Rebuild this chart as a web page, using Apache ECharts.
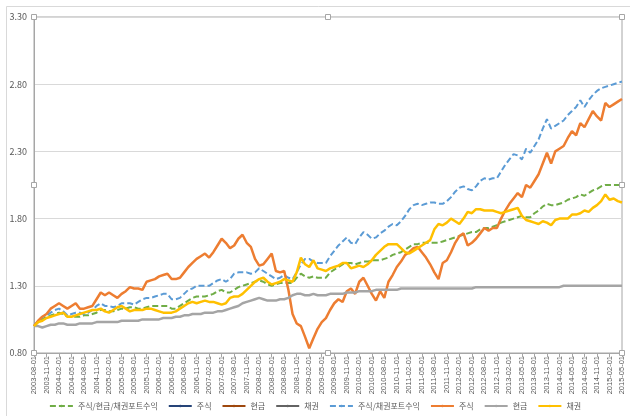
<!DOCTYPE html>
<html>
<head>
<meta charset="utf-8">
<script src="https://cdn.jsdelivr.net/npm/echarts@6/dist/echarts.min.js"></script>
<style>
  html, body { margin: 0; padding: 0; background: #fff; }
  #chart { width: 630px; height: 416px; }
</style>
</head>
<body>
<div id="chart"></div>
<script>
// 월별 날짜 (2003-08-01 ~ 2015-05-01)
var months = [];
for (var y = 2003, m = 8; y < 2015 || (y === 2015 && m <= 5); m++) {
  if (m > 12) { m = 1; y++; }
  months.push(y + '-' + (m < 10 ? '0' + m : m) + '-01');
}

var yTicks = [0.8, 1.3, 1.8, 2.3, 2.8, 3.3];

// 주식/현금/채권포트수익
var mixAll = [
  1.00,1.03,1.05,1.07,1.08,1.09,1.10,1.09,1.07,1.07,1.07,1.07,
  1.08,1.08,1.09,1.10,1.12,1.12,1.11,1.11,1.12,1.13,1.13,1.14,
  1.14,1.13,1.13,1.14,1.15,1.15,1.15,1.15,1.15,1.13,1.13,1.15,
  1.17,1.19,1.21,1.22,1.22,1.22,1.23,1.24,1.26,1.27,1.25,1.25,
  1.27,1.29,1.30,1.31,1.32,1.33,1.34,1.33,1.31,1.30,1.31,1.32,
  1.32,1.32,1.32,1.36,1.39,1.37,1.36,1.37,1.36,1.36,1.36,1.40,
  1.42,1.44,1.46,1.47,1.47,1.46,1.47,1.48,1.48,1.49,1.49,1.49,
  1.50,1.51,1.53,1.54,1.55,1.57,1.59,1.61,1.61,1.62,1.62,1.62,
  1.62,1.62,1.63,1.64,1.65,1.66,1.67,1.68,1.69,1.70,1.70,1.72,
  1.73,1.73,1.74,1.75,1.77,1.78,1.79,1.80,1.81,1.82,1.81,1.81,
  1.84,1.86,1.89,1.91,1.90,1.90,1.91,1.92,1.94,1.95,1.96,1.98,
  1.97,1.99,2.01,2.02,2.04,2.05,2.05,2.05,2.05,2.05
];
// 주식/채권포트수익
var mixStockBond = [
  1.00,1.04,1.07,1.08,1.10,1.12,1.13,1.11,1.08,1.09,1.10,1.10,
  1.09,1.10,1.12,1.15,1.17,1.15,1.15,1.14,1.15,1.17,1.17,1.17,
  1.16,1.18,1.20,1.21,1.21,1.22,1.23,1.24,1.24,1.20,1.20,1.21,
  1.24,1.27,1.28,1.30,1.30,1.30,1.30,1.32,1.34,1.35,1.33,1.35,
  1.39,1.40,1.40,1.40,1.39,1.40,1.43,1.41,1.39,1.37,1.35,1.36,
  1.38,1.36,1.35,1.40,1.46,1.50,1.50,1.48,1.47,1.47,1.47,1.52,
  1.56,1.60,1.63,1.66,1.62,1.61,1.66,1.70,1.68,1.65,1.66,1.69,
  1.71,1.74,1.76,1.75,1.78,1.82,1.87,1.90,1.91,1.90,1.91,1.92,
  1.92,1.91,1.91,1.93,1.96,2.00,2.03,2.04,2.02,2.01,2.04,2.08,
  2.10,2.09,2.10,2.10,2.15,2.20,2.24,2.28,2.27,2.24,2.32,2.29,
  2.34,2.39,2.47,2.54,2.47,2.49,2.51,2.53,2.57,2.60,2.63,2.68,
  2.63,2.68,2.72,2.75,2.77,2.78,2.79,2.80,2.81,2.82
];
// 주식
var stock = [
  1.00,1.04,1.07,1.09,1.13,1.15,1.17,1.15,1.13,1.15,1.17,1.13,
  1.13,1.14,1.15,1.20,1.25,1.23,1.25,1.23,1.21,1.24,1.26,1.29,
  1.28,1.28,1.27,1.33,1.34,1.35,1.37,1.38,1.39,1.35,1.35,1.36,
  1.40,1.44,1.47,1.50,1.52,1.54,1.51,1.55,1.60,1.65,1.62,1.58,
  1.60,1.65,1.68,1.62,1.59,1.50,1.45,1.46,1.50,1.54,1.41,1.40,
  1.41,1.27,1.09,1.02,1.00,0.92,0.835,0.91,0.98,1.03,1.06,1.12,
  1.17,1.20,1.18,1.26,1.28,1.24,1.33,1.36,1.30,1.24,1.19,1.26,
  1.21,1.33,1.38,1.44,1.48,1.53,1.55,1.58,1.59,1.55,1.51,1.46,
  1.40,1.35,1.47,1.49,1.55,1.62,1.67,1.69,1.60,1.62,1.65,1.69,
  1.73,1.71,1.73,1.73,1.80,1.86,1.91,1.95,1.99,1.96,2.05,2.03,
  2.08,2.13,2.21,2.29,2.21,2.30,2.32,2.34,2.40,2.45,2.42,2.51,
  2.48,2.54,2.60,2.56,2.53,2.66,2.63,2.65,2.67,2.69
];
// 현금
var cash = [
  1.00,1.00,0.99,1.00,1.01,1.01,1.02,1.02,1.01,1.01,1.01,1.02,
  1.02,1.02,1.02,1.03,1.03,1.03,1.03,1.03,1.03,1.04,1.04,1.04,
  1.04,1.04,1.05,1.05,1.05,1.05,1.05,1.06,1.06,1.06,1.07,1.07,
  1.08,1.08,1.09,1.09,1.09,1.10,1.10,1.10,1.11,1.11,1.12,1.13,
  1.14,1.15,1.17,1.18,1.19,1.20,1.21,1.20,1.19,1.19,1.19,1.20,
  1.20,1.21,1.23,1.24,1.24,1.23,1.23,1.24,1.23,1.23,1.23,1.24,
  1.24,1.24,1.24,1.25,1.25,1.25,1.26,1.26,1.26,1.26,1.27,1.27,
  1.27,1.27,1.27,1.27,1.28,1.28,1.28,1.28,1.28,1.28,1.28,1.28,
  1.28,1.28,1.28,1.28,1.28,1.28,1.28,1.28,1.28,1.28,1.29,1.29,
  1.29,1.29,1.29,1.29,1.29,1.29,1.29,1.29,1.29,1.29,1.29,1.29,
  1.29,1.29,1.29,1.29,1.29,1.29,1.29,1.30,1.30,1.30,1.30,1.30,
  1.30,1.30,1.30,1.30,1.30,1.30,1.30,1.30,1.30,1.30
];
// 채권
var bond = [
  1.00,1.03,1.04,1.06,1.07,1.08,1.09,1.10,1.07,1.07,1.08,1.09,
  1.10,1.11,1.12,1.12,1.13,1.11,1.10,1.12,1.14,1.15,1.13,1.11,
  1.12,1.12,1.12,1.13,1.13,1.12,1.11,1.10,1.10,1.10,1.11,1.13,
  1.15,1.17,1.18,1.17,1.18,1.19,1.18,1.18,1.17,1.16,1.17,1.21,
  1.22,1.22,1.24,1.27,1.30,1.33,1.35,1.36,1.33,1.31,1.32,1.33,
  1.35,1.34,1.33,1.40,1.51,1.46,1.44,1.49,1.43,1.42,1.41,1.43,
  1.44,1.45,1.47,1.47,1.43,1.44,1.45,1.44,1.46,1.49,1.53,1.56,
  1.59,1.61,1.61,1.61,1.58,1.55,1.54,1.56,1.58,1.60,1.62,1.64,
  1.72,1.76,1.75,1.77,1.80,1.78,1.76,1.80,1.85,1.84,1.87,1.87,
  1.86,1.86,1.86,1.85,1.84,1.85,1.86,1.87,1.88,1.82,1.79,1.78,
  1.77,1.76,1.78,1.77,1.75,1.79,1.80,1.80,1.80,1.83,1.83,1.84,
  1.86,1.85,1.88,1.90,1.93,1.98,1.94,1.95,1.93,1.92
];

var font = '"Noto Sans CJK KR", "Noto Sans", sans-serif';

function makeLine(name, data, color, dashed, width) {
  return {
    name: name,
    type: 'line',
    data: data,
    symbol: 'none',
    silent: true,
    itemStyle: { color: color },
    lineStyle: { color: color, width: width, type: dashed ? [6, 3] : 'solid' }
  };
}

var chart = echarts.init(document.getElementById('chart'));

// 플롯 영역 선택 핸들 (장식)
var handles = [];
[[34, 17], [328, 17], [622, 17], [34, 185], [622, 185], [34, 353], [328, 353], [622, 353]].forEach(function (p) {
  handles.push({
    type: 'rect', silent: true, z: 100,
    shape: { x: p[0] - 2.5, y: p[1] - 2.5, width: 5, height: 5 },
    style: { fill: '#fff', stroke: '#A6A6A6', lineWidth: 1 }
  });
});

var option = {
  animation: false,
  backgroundColor: '#fff',
  textStyle: { fontFamily: font },
  graphic: [{
    type: 'rect', silent: true,
    shape: { x: 6.5, y: 6.5, width: 640, height: 420 },
    style: { fill: 'none', stroke: '#D9D9D9', lineWidth: 1 }
  }].concat(handles),
  grid: {
    left: 34, right: 8, top: 17, bottom: 63,
    show: true, borderColor: '#A6A6A6', borderWidth: 1
  },
  legend: {
    bottom: 1,
    left: 'center',
    itemWidth: 23,
    itemHeight: 3,
    itemGap: 10,
    formatter: function (n) { return n.replace(/#\d$/, ''); },
    textStyle: { color: '#595959', fontSize: 8, fontFamily: font }
  },
  xAxis: {
    type: 'category',
    data: months,
    boundaryGap: false,
    axisLine: { lineStyle: { color: '#A6A6A6' } },
    axisTick: { interval: 2, length: 4, lineStyle: { color: '#A6A6A6' } },
    axisLabel: {
      interval: 2, rotate: 90, fontSize: 7.5, color: '#595959', margin: 3,
      fontFamily: '"Liberation Sans", sans-serif'
    },
    splitLine: { show: false }
  },
  yAxis: {
    type: 'value',
    min: yTicks[0],
    max: yTicks[yTicks.length - 1],
    interval: 0.5,
    axisLine: { show: true, lineStyle: { color: '#A6A6A6' } },
    axisTick: { show: false },
    axisLabel: {
      fontSize: 9, color: '#595959', margin: 7,
      formatter: function (v) { return v.toFixed(2); }
    },
    splitLine: { lineStyle: { color: '#D9D9D9' } }
  },
  series: [
    makeLine('주식/현금/채권포트수익', mixAll, '#70AD47', true, 2),
    makeLine('주식', [], '#264478', false, 2.5),
    makeLine('현금', [], '#9E480E', false, 2.5),
    makeLine('채권', [], '#636363', false, 2.5),
    makeLine('주식/채권포트수익', mixStockBond, '#5B9BD5', true, 2),
    makeLine('주식#2', stock, '#ED7D31', false, 2.5),
    makeLine('현금#2', cash, '#A5A5A5', false, 2.5),
    makeLine('채권#2', bond, '#FFC000', false, 2.5)
  ]
};

chart.setOption(option);
window.addEventListener('resize', function () {
  chart.resize();
});
</script>
</body>
</html>
